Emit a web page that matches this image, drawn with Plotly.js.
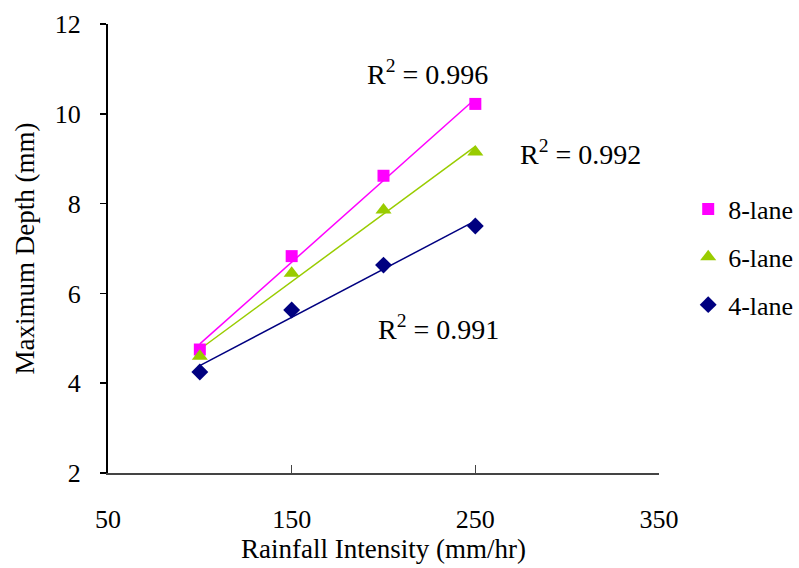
<!DOCTYPE html>
<html>
<head>
<meta charset="utf-8">
<script src="https://cdn.plot.ly/plotly-3.0.1.min.js"></script>
<style>html,body{margin:0;padding:0;background:#fff;}#chart{width:799px;height:568px;}</style>
</head>
<body>
<div id="chart"></div>
<script>
const intensity = [100, 150, 200, 250];
const lane8 = [4.75, 6.83, 8.62, 10.22];
const lane6 = [4.6, 6.45, 7.86, 9.15];
const lane4 = [4.25, 5.63, 6.63, 7.5];
const r2Labels = ['R<sup>2</sup> = 0.996', 'R<sup>2</sup> = 0.992', 'R<sup>2</sup> = 0.991'];
const r2Pos = [[224, 10.93], [307, 9.13], [230, 5.25]];

function fit(x, y) {
  const n = x.length;
  const mx = x.reduce((a, b) => a + b) / n, my = y.reduce((a, b) => a + b) / n;
  let sxy = 0, sxx = 0;
  for (let i = 0; i < n; i++) { sxy += (x[i] - mx) * (y[i] - my); sxx += (x[i] - mx) ** 2; }
  const b = sxy / sxx, a = my - b * mx;
  return x.map(v => a + b * v);
}

const series = [
  {name: '8-lane', y: lane8, color: '#FF00FF', symbol: 'square', size: 12},
  {name: '6-lane', y: lane6, color: '#99CC00', symbol: 'triangle-up', size: 14},
  {name: '4-lane', y: lane4, color: '#000080', symbol: 'diamond', size: 13}
];
const traces = [];
series.forEach(s => {
  traces.push({x: intensity, y: fit(intensity, s.y), mode: 'lines', line: {color: s.color, width: 1.5}, showlegend: false, hoverinfo: 'skip'});
});
series.forEach(s => {
  traces.push({x: intensity, y: s.y, name: s.name, legendgroup: s.name, mode: 'markers', marker: {color: s.color, symbol: s.symbol, size: s.size}});
});

const fam = '"Liberation Serif", "Times New Roman", serif';
function f(size) { return {family: fam, size: size, color: '#000'}; }
const layout = {
  width: 799, height: 568,
  margin: {l: 108, r: 140, t: 24, b: 95, autoexpand: false},
  paper_bgcolor: '#fff', plot_bgcolor: '#fff',
  font: f(26),
  showlegend: true,
  legend: {x: 1.053, y: 0.64, xanchor: 'left', yanchor: 'top', font: f(26), traceorder: 'grouped', tracegroupgap: 11, itemwidth: 30, bgcolor: 'rgba(0,0,0,0)'},
  xaxis: {
    range: [50, 350], tickvals: [50, 150, 250, 350], showgrid: false, zeroline: false,
    showline: true, linecolor: '#444', linewidth: 2,
    ticks: 'inside', ticklen: 8, tickcolor: '#444', tickwidth: 1.5,
    ticklabelstandoff: 22,
    tickfont: f(26),
    title: {text: 'Rainfall Intensity (mm/hr)', font: f(27), standoff: 4}
  },
  yaxis: {
    range: [2, 12], tickvals: [2, 4, 6, 8, 10, 12], showgrid: false, zeroline: false,
    showline: true, linecolor: '#000', linewidth: 2,
    ticks: 'outside', ticklen: 6, tickcolor: '#000', tickwidth: 1.5,
    ticklabelstandoff: 14,
    tickfont: f(26),
    title: {text: 'Maximum Depth (mm)', font: f(27), standoff: 12}
  },
  annotations: r2Labels.map((t, i) => ({x: r2Pos[i][0], y: r2Pos[i][1], text: t, showarrow: false, xanchor: 'center', yanchor: 'middle', font: f(28)}))
};
Plotly.newPlot('chart', traces, layout, {displayModeBar: false, staticPlot: true});
</script>
</body>
</html>
